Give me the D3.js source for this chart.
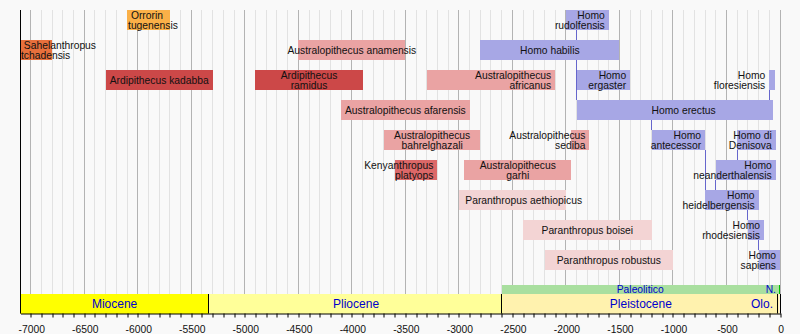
<!DOCTYPE html>
<html>
<head>
<meta charset="utf-8">
<script src="https://cdn.jsdelivr.net/npm/d3@7"></script>
<style>
  body { margin: 0; background: #f9f9f9; }
  svg { display: block; font-family: "Liberation Sans", Arial, sans-serif; }
</style>
</head>
<body>
<svg id="chart" width="800" height="334"></svg>
<script>
// years are in thousands, negative = before present
// "|" splits a label on two lines
const names = [
  "\u00a0Orrorin|tugenensis", "\u00a0Sahelanthropus|tchadensis", "Ardipithecus kadabba", "Ardipithecus|ramidus",
  "Australopithecus anamensis", "Australopithecus afarensis", "Australopithecus|africanus",
  "Australopithecus|bahrelghazali", "Kenyanthropus|platyops", "Australopithecus|garhi", "Australopithecus|sediba",
  "Paranthropus aethiopicus", "Paranthropus boisei", "Paranthropus robustus",
  "Homo|rudolfensis", "Homo habilis", "Homo|ergaster", "Homo|floresiensis", "Homo erectus",
  "Homo|antecessor", "Homo di|Denisova", "Homo|neanderthalensis", "Homo|heidelbergensis",
  "Homo|rhodesiensis", "Homo|sapiens"
];
const starts = [-6100, -7100, -6300, -4900, -4500, -4100, -3300, -3700, -3600, -2950, -1950,
  -3000, -2400, -2200, -2000, -2800, -1900, -100, -1900, -1200, -400, -600, -700, -300, -200];
const ends = [-5700, -6800, -5300, -3900, -3500, -2900, -2100, -2800, -3200, -1950, -1780,
  -2000, -1200, -1000, -1600, -1500, -1400, -50, -70, -700, -40, -40, -200, -150, 0];
const rows = [0, 1, 2, 2, 1, 3, 2, 4, 5, 5, 4, 6, 7, 8, 0, 1, 2, 2, 3, 4, 4, 5, 6, 7, 8];
const genus = ["Orrorin", "Sahelanthropus", "Ardipithecus", "Ardipithecus",
  "Australopithecus", "Australopithecus", "Australopithecus", "Australopithecus", "Kenyanthropus",
  "Australopithecus", "Australopithecus", "Paranthropus", "Paranthropus", "Paranthropus",
  "Homo", "Homo", "Homo", "Homo", "Homo", "Homo", "Homo", "Homo", "Homo", "Homo", "Homo"];
const aligns = ["start", "start", "middle", "middle", "middle", "middle", "end", "middle", "end", "middle", "end",
  "start", "middle", "middle", "end", "middle", "end", "before", "middle", "end", "end", "end", "end", "end", "end"];
// labels not placed at the usual spot of their bar
const labelAt = { "Homo erectus": -900, "Paranthropus aethiopicus": -2940 };

// lineage links: year, row above, row below
const linkYear = [-1900, -100, -1200, -700, -400, -600, -300, -200];
const linkFrom = [0, 2, 3, 4, 4, 5, 6, 7];
const linkTo = [3, 3, 4, 6, 5, 6, 7, 8];

const epochNames = ["Miocene", "Pliocene", "Pleistocene", "Olo."];
const epochStart = [-7100, -5333, -2588, -11.7];
const epochEnd = [-5333, -2588, -11.7, 0];
const periodNames = ["Paleolitico", "N."];
const periodStart = [-2600, -11.7];
const periodEnd = [-11.7, 0];

const color = d3.scaleOrdinal()
  .domain(["Orrorin", "Sahelanthropus", "Ardipithecus", "Kenyanthropus", "Australopithecus", "Paranthropus", "Homo"])
  .range(["#fab048", "#e8703c", "#cc4848", "#dc6868", "#eaa3a3", "#f3d4d4", "#a7a7e5"]);
const epochColor = ["#ffff00", "#ffff99", "#fff2ae", "#fef2e0"];
const periodColor = ["#a9df9f", "#00c000"];

const svg = d3.select("#chart");
const fontSize = 10.3;

const x = d3.scaleLinear().domain([-7100, 0]).range([20, 780]);
const y = d3.scaleBand().domain(d3.range(9)).range([10, 270]).paddingInner(1 / 3);
const px = v => Math.floor(x(v)) + 0.5;

const axisY = 313.5, epochTop = 294, periodTop = 285;

svg.append("rect").attr("width", 800).attr("height", 334).attr("fill", "#f9f9f9");

// grid
const years = d3.range(-7000, 1, 100);
svg.append("g").selectAll("line")
  .data(years)
  .join("line")
    .attr("x1", d => px(d)).attr("x2", d => px(d))
    .attr("y1", 10).attr("y2", epochTop)
    .attr("stroke", d => d % 500 === 0 ? "#b3b3b3" : "#e2e2e2");

// links, behind the bars
svg.append("g").selectAll("line")
  .data(linkYear)
  .join("line")
    .attr("x1", d => px(d)).attr("x2", d => px(d))
    .attr("y1", (d, i) => y(linkFrom[i]) + y.bandwidth())
    .attr("y2", (d, i) => y(linkTo[i]))
    .attr("stroke", "#6666cc");

const idx = d3.range(names.length);

svg.append("g").selectAll("rect")
  .data(idx)
  .join("rect")
    .attr("x", i => x(starts[i]))
    .attr("y", i => y(rows[i]))
    .attr("width", i => x(ends[i]) - x(starts[i]))
    .attr("height", y.bandwidth())
    .attr("fill", i => color(genus[i]))
    .attr("shape-rendering", "crispEdges");

function labelX(i) {
  const plain = names[i].replace("|", " ").replace("\u00a0", "");
  if (labelAt[plain] !== undefined) return x(labelAt[plain]);
  if (aligns[i] === "start") return x(starts[i]) + 1;
  if (aligns[i] === "middle") return (x(starts[i]) + x(ends[i])) / 2;
  if (aligns[i] === "end") return x(ends[i]) - 4;
  return x(starts[i]) - 4;
}

const labels = svg.append("g")
    .attr("font-size", fontSize)
    .attr("fill", "#111")
  .selectAll("text")
  .data(idx)
  .join("text")
    .attr("text-anchor", i => aligns[i] === "before" ? "end" : aligns[i])
    .attr("x", labelX);

labels.each(function(i) {
  const lines = names[i].split("|");
  const t = d3.select(this);
  const top = y(rows[i]);
  if (lines.length === 1) {
    t.attr("y", top + y.bandwidth() / 2).attr("dy", "0.35em").text(lines[0]);
  } else {
    lines.forEach((s, k) => {
      t.append("tspan").attr("x", labelX(i)).attr("y", top + 8.5 + k * 10).text(s);
    });
  }
});

// archaeological periods
const per = svg.append("g");
per.selectAll("rect")
  .data(periodNames)
  .join("rect")
    .attr("x", (d, i) => x(periodStart[i]))
    .attr("y", periodTop)
    .attr("width", (d, i) => x(periodEnd[i]) - x(periodStart[i]))
    .attr("height", epochTop - periodTop)
    .attr("fill", (d, i) => periodColor[i])
    .attr("shape-rendering", "crispEdges");
per.selectAll("text")
  .data(periodNames)
  .join("text")
    .attr("x", (d, i) => i === periodNames.length - 1 ? x(periodEnd[i]) - 4 : (x(periodStart[i]) + x(periodEnd[i])) / 2)
    .attr("y", epochTop - 0.7)
    .attr("text-anchor", (d, i) => i === periodNames.length - 1 ? "end" : "middle")
    .attr("font-size", fontSize)
    .attr("fill", "#0000cc")
    .text(d => d);

// geological epochs
const ep = svg.append("g");
ep.selectAll("rect")
  .data(epochNames)
  .join("rect")
    .attr("x", (d, i) => x(epochStart[i]))
    .attr("y", epochTop)
    .attr("width", (d, i) => x(epochEnd[i]) - x(epochStart[i]))
    .attr("height", axisY - epochTop)
    .attr("fill", (d, i) => epochColor[i])
    .attr("shape-rendering", "crispEdges");
ep.selectAll("line")
  .data(epochEnd)
  .join("line")
    .attr("x1", d => Math.floor(x(d)) + 0.5 - (d === 0 ? 0 : 1))
    .attr("x2", d => Math.floor(x(d)) + 0.5 - (d === 0 ? 0 : 1))
    .attr("y1", epochTop).attr("y2", axisY)
    .attr("stroke", "#000");
ep.selectAll("text")
  .data(epochNames)
  .join("text")
    .attr("x", (d, i) => i === epochNames.length - 1 ? x(epochEnd[i]) - 7 : (x(epochStart[i]) + x(epochEnd[i])) / 2)
    .attr("y", (epochTop + axisY) / 2)
    .attr("dy", "0.35em")
    .attr("text-anchor", (d, i) => i === epochNames.length - 1 ? "end" : "middle")
    .attr("font-size", 12)
    .attr("fill", "#0000cc")
    .text(d => d);

// left edge
svg.append("line")
  .attr("x1", 20.5).attr("x2", 20.5)
  .attr("y1", 10).attr("y2", axisY)
  .attr("stroke", "#000");

const axis = svg.append("g")
  .attr("transform", `translate(0.5,${axisY})`)
  .call(d3.axisBottom(x)
    .tickValues(years)
    .tickFormat(d => d % 500 === 0 ? String(d) : "")
    .tickSize(4)
    .tickSizeOuter(0)
    .tickPadding(8));
axis.attr("font-family", null).attr("font-size", fontSize);
axis.selectAll("text").attr("fill", "#111");
axis.selectAll(".tick line").attr("transform", d => `translate(${px(d) - 0.5 - x(d)},0)`);
</script>
</body>
</html>
